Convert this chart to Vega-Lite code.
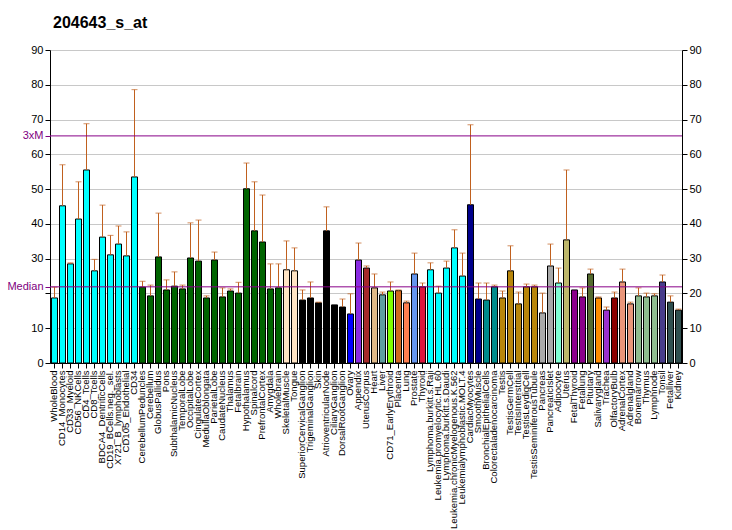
{
  "$schema": "https://vega.github.io/schema/vega-lite/v6.json",
  "width": 632,
  "height": 313,
  "autosize": "none",
  "padding": {"left": 50, "top": 50, "right": 50, "bottom": 167},
  "background": "white",
  "title": {"text": "204643_s_at", "anchor": "start", "frame": "group", "offset": 13, "dx": 3, "font": "Liberation Sans", "fontSize": 16, "fontWeight": "bold", "color": "#000000"},
  "config": {
    "view": {"stroke": null},
    "axis": {"labelFont": "Liberation Sans", "labelColor": "#000000", "domainColor": "#000000", "tickColor": "#000000", "titleFont": "Liberation Sans"},
    "axisX": {"labelAngle": -90, "labelFontSize": 9.5, "labelPadding": 2, "tickSize": 5, "labelOverlap": false, "labelLimit": 200, "domainColor": "#000000", "title": null}
  },
  "data": {"values": [
    {"tissue": "WholeBlood", "value": 18.7, "hi": 21.8},
    {"tissue": "CD14_Monocytes", "value": 45.2, "hi": 57.0},
    {"tissue": "CD33_Myeloid", "value": 28.5, "hi": 28.8},
    {"tissue": "CD56_NKCells", "value": 41.4, "hi": 52.1},
    {"tissue": "CD4_Tcells", "value": 55.5, "hi": 68.8},
    {"tissue": "CD8_Tcells", "value": 26.5, "hi": 29.8},
    {"tissue": "BDCA4_DentriticCells", "value": 36.2, "hi": 45.4},
    {"tissue": "CD19_BCells.neg._sel.", "value": 31.1, "hi": 36.7},
    {"tissue": "X721_B_lymphoblasts", "value": 34.2, "hi": 39.4},
    {"tissue": "CD105_Endothelial", "value": 30.8, "hi": 37.7},
    {"tissue": "CD34", "value": 53.5, "hi": 78.6},
    {"tissue": "CerebellumPeduncles", "value": 21.8, "hi": 23.5},
    {"tissue": "Cerebellum", "value": 19.3, "hi": 22.4},
    {"tissue": "GlobusPallidus", "value": 30.5, "hi": 43.1},
    {"tissue": "Pons", "value": 21.0, "hi": 23.9},
    {"tissue": "SubthalamicNucleus", "value": 22.1, "hi": 26.2},
    {"tissue": "TemporalLobe", "value": 21.3, "hi": 22.4},
    {"tissue": "OccipitalLobe", "value": 30.2, "hi": 40.3},
    {"tissue": "CingulateCortex", "value": 29.3, "hi": 41.1},
    {"tissue": "MedullaOblongata", "value": 18.7, "hi": 19.3},
    {"tissue": "ParietalLobe", "value": 29.6, "hi": 31.9},
    {"tissue": "CaudateNucleus", "value": 19.0, "hi": 21.6},
    {"tissue": "Thalamus", "value": 20.7, "hi": 21.3},
    {"tissue": "Fetalbrain", "value": 20.1, "hi": 23.2},
    {"tissue": "Hypothalamus", "value": 50.1, "hi": 57.5},
    {"tissue": "Spinalcord", "value": 38.0, "hi": 52.1},
    {"tissue": "PrefrontalCortex", "value": 34.8, "hi": 48.3},
    {"tissue": "Amygdala", "value": 21.3, "hi": 28.5},
    {"tissue": "Wholebrain", "value": 21.6, "hi": 28.5},
    {"tissue": "SkeletalMuscle", "value": 26.8, "hi": 35.1},
    {"tissue": "Tongue", "value": 26.5, "hi": 33.1},
    {"tissue": "SuperiorCervicalGanglion", "value": 18.1, "hi": 21.0},
    {"tissue": "TrigeminalGanglion", "value": 18.7, "hi": 23.3},
    {"tissue": "Skin", "value": 17.3, "hi": 17.5},
    {"tissue": "AtrioventricularNode", "value": 38.0, "hi": 44.9},
    {"tissue": "CiliaryGanglion", "value": 16.7, "hi": null},
    {"tissue": "DorsalRootGanglion", "value": 16.1, "hi": 18.4},
    {"tissue": "Ovary", "value": 14.1, "hi": 19.9},
    {"tissue": "Appendix", "value": 29.6, "hi": 34.5},
    {"tissue": "UterusCorpus", "value": 27.3, "hi": 27.9},
    {"tissue": "Heart", "value": 21.6, "hi": 25.6},
    {"tissue": "Liver", "value": 19.6, "hi": 20.4},
    {"tissue": "CD71_EarlyErythroid", "value": 20.7, "hi": 23.3},
    {"tissue": "Placenta", "value": 20.8, "hi": 21.0},
    {"tissue": "Lung", "value": 17.3, "hi": 17.8},
    {"tissue": "Prostate", "value": 25.6, "hi": 31.6},
    {"tissue": "Thyroid", "value": 21.9, "hi": 23.0},
    {"tissue": "Lymphoma.burkitt.s.Raji", "value": 26.8, "hi": 28.8},
    {"tissue": "Leukemia.promyelocytic.HL.60", "value": 20.1, "hi": 22.1},
    {"tissue": "Lymphoma.burkitt.s.Daudi", "value": 27.3, "hi": 29.3},
    {"tissue": "Leukemia.chronicMyelogenous.K.562", "value": 33.1, "hi": 38.3},
    {"tissue": "Leukemialymphoblastic.MOLT.4", "value": 25.0, "hi": 31.6},
    {"tissue": "CardiacMyocytes", "value": 45.5, "hi": 68.5},
    {"tissue": "SmoothMuscle", "value": 18.4, "hi": 23.0},
    {"tissue": "BronchialEpithelialCells", "value": 18.1, "hi": 23.0},
    {"tissue": "Colorectaladenocarcinoma", "value": 21.9, "hi": 22.4},
    {"tissue": "Testis", "value": 18.7, "hi": 20.7},
    {"tissue": "TestisGermCell", "value": 26.5, "hi": 33.7},
    {"tissue": "TestisInterstitial", "value": 17.0, "hi": 20.4},
    {"tissue": "TestisLeydigCell", "value": 21.9, "hi": 22.7},
    {"tissue": "TestisSeminiferousTubule", "value": 21.9, "hi": 22.4},
    {"tissue": "Pancreas", "value": 14.4, "hi": 20.1},
    {"tissue": "PancreaticIslet", "value": 27.9, "hi": 34.2},
    {"tissue": "Adipocyte", "value": 23.0, "hi": 27.3},
    {"tissue": "Uterus", "value": 35.4, "hi": 55.5},
    {"tissue": "FetalThyroid", "value": 21.0, "hi": null},
    {"tissue": "Fetallung", "value": 19.0, "hi": 21.6},
    {"tissue": "Pituitary", "value": 25.6, "hi": 27.0},
    {"tissue": "Salivarygland", "value": 18.7, "hi": 19.0},
    {"tissue": "Trachea", "value": 15.2, "hi": 16.1},
    {"tissue": "OlfactoryBulb", "value": 18.7, "hi": 20.4},
    {"tissue": "AdrenalCortex", "value": 23.3, "hi": 27.0},
    {"tissue": "Adrenalgland", "value": 17.0, "hi": 17.5},
    {"tissue": "Bonemarrow", "value": 19.3, "hi": 21.6},
    {"tissue": "Thymus", "value": 19.0, "hi": 20.1},
    {"tissue": "Lymphnode", "value": 19.3, "hi": 19.9},
    {"tissue": "Tonsil", "value": 23.3, "hi": 25.3},
    {"tissue": "Fetalliver", "value": 17.5, "hi": 19.3},
    {"tissue": "Kidney", "value": 15.2, "hi": 15.5}
  ]},
  "layer": [
    {
      "mark": {"type": "bar", "stroke": "#000000", "strokeWidth": 1, "xOffset": 0.5},
      "encoding": {
        "x": {"field": "tissue", "type": "nominal", "sort": null, "title": null,
          "scale": {"paddingInner": 0.25, "paddingOuter": 0.125}},
        "y": {"field": "value", "type": "quantitative", "title": null,
          "scale": {"domain": [0, 90], "nice": false, "zero": true},
          "axis": {"orient": "left", "values": [0, 10, 20, 30, 40, 50, 60, 70, 80, 90], "labelExpr": "datum.value == 20 ? '' : datum.label", "grid": true, "gridColor": "#C8C8C8", "gridWidth": 1, "labelFontSize": 11, "tickSize": 5, "labelPadding": 2}},
        "color": {"field": "tissue", "type": "nominal", "legend": null,
          "scale": {
            "domain": ["WholeBlood","CD14_Monocytes","CD33_Myeloid","CD56_NKCells","CD4_Tcells","CD8_Tcells","BDCA4_DentriticCells","CD19_BCells.neg._sel.","X721_B_lymphoblasts","CD105_Endothelial","CD34","CerebellumPeduncles","Cerebellum","GlobusPallidus","Pons","SubthalamicNucleus","TemporalLobe","OccipitalLobe","CingulateCortex","MedullaOblongata","ParietalLobe","CaudateNucleus","Thalamus","Fetalbrain","Hypothalamus","Spinalcord","PrefrontalCortex","Amygdala","Wholebrain","SkeletalMuscle","Tongue","SuperiorCervicalGanglion","TrigeminalGanglion","Skin","AtrioventricularNode","CiliaryGanglion","DorsalRootGanglion","Ovary","Appendix","UterusCorpus","Heart","Liver","CD71_EarlyErythroid","Placenta","Lung","Prostate","Thyroid","Lymphoma.burkitt.s.Raji","Leukemia.promyelocytic.HL.60","Lymphoma.burkitt.s.Daudi","Leukemia.chronicMyelogenous.K.562","Leukemialymphoblastic.MOLT.4","CardiacMyocytes","SmoothMuscle","BronchialEpithelialCells","Colorectaladenocarcinoma","Testis","TestisGermCell","TestisInterstitial","TestisLeydigCell","TestisSeminiferousTubule","Pancreas","PancreaticIslet","Adipocyte","Uterus","FetalThyroid","Fetallung","Pituitary","Salivarygland","Trachea","OlfactoryBulb","AdrenalCortex","Adrenalgland","Bonemarrow","Thymus","Lymphnode","Tonsil","Fetalliver","Kidney"],
            "range": ["#00FFFF","#00FFFF","#00FFFF","#00FFFF","#00FFFF","#00FFFF","#00FFFF","#00FFFF","#00FFFF","#00FFFF","#00FFFF",
              "#006400","#006400","#006400","#006400","#006400","#006400","#006400","#006400","#006400","#006400","#006400","#006400","#006400","#006400","#006400","#006400","#006400","#006400",
              "#FFE4C4","#FFE4C4",
              "#000000","#000000","#000000","#000000","#000000","#000000",
              "#0000FF","#8A2BE2","#A52A2A","#DEB887","#5F9EA0","#7FFF00","#D2691E","#FF7F50","#6495ED","#DC143C",
              "#00FFFF","#00FFFF","#00FFFF","#00FFFF","#00FFFF",
              "#00008B","#00008B","#008B8B","#008B8B",
              "#B8860B","#B8860B","#B8860B","#B8860B","#B8860B",
              "#A9A9A9","#A9A9A9","#7FFFD4","#BDB76B","#8B008B","#8B008B","#556B2F","#FF8C00","#9932CC","#8B0000","#E9967A","#E9967A","#8FBC8F","#8FBC8F","#8FBC8F","#483D8B","#2F4F4F","#2F4F4F"]
          }}
      }
    },
    {
      "mark": {"type": "rule", "color": "#C0601E", "strokeWidth": 1, "xOffset": 0.5},
      "encoding": {
        "x": {"field": "tissue", "type": "nominal", "sort": null, "title": null},
        "y": {"field": "value", "type": "quantitative", "title": null,
          "scale": {"domain": [0, 90], "nice": false},
          "axis": {"orient": "right", "values": [0, 10, 20, 30, 40, 50, 60, 70, 80, 90], "grid": false, "labelFontSize": 11, "tickSize": 5, "labelPadding": 2}},
        "y2": {"field": "hi"}
      }
    },
    {
      "mark": {"type": "tick", "color": "#C0601E", "orient": "horizontal", "size": 6, "thickness": 1, "xOffset": 0.5},
      "encoding": {
        "x": {"field": "tissue", "type": "nominal", "sort": null, "title": null},
        "y": {"field": "hi", "type": "quantitative", "axis": null, "scale": {"domain": [0, 90], "nice": false}}
      }
    },
    {
      "data": {"values": [{"line": "3xM", "v": 65.3}, {"line": "Median", "v": 21.9}]},
      "mark": {"type": "rule", "stroke": "#880088", "strokeWidth": 1},
      "encoding": {
        "y": {"field": "v", "type": "quantitative", "title": null,
          "scale": {"domain": [0, 90], "nice": false},
          "axis": {"orient": "left", "values": [21.9, 65.3], "labelExpr": "datum.value > 50 ? '3xM' : 'Median'", "labelColor": "#800080", "tickColor": "#800080", "domain": false, "grid": false, "labelFontSize": 11, "tickSize": 5, "labelPadding": 2}}
      }
    }
  ],
  "resolve": {"axis": {"y": "independent"}}
}
